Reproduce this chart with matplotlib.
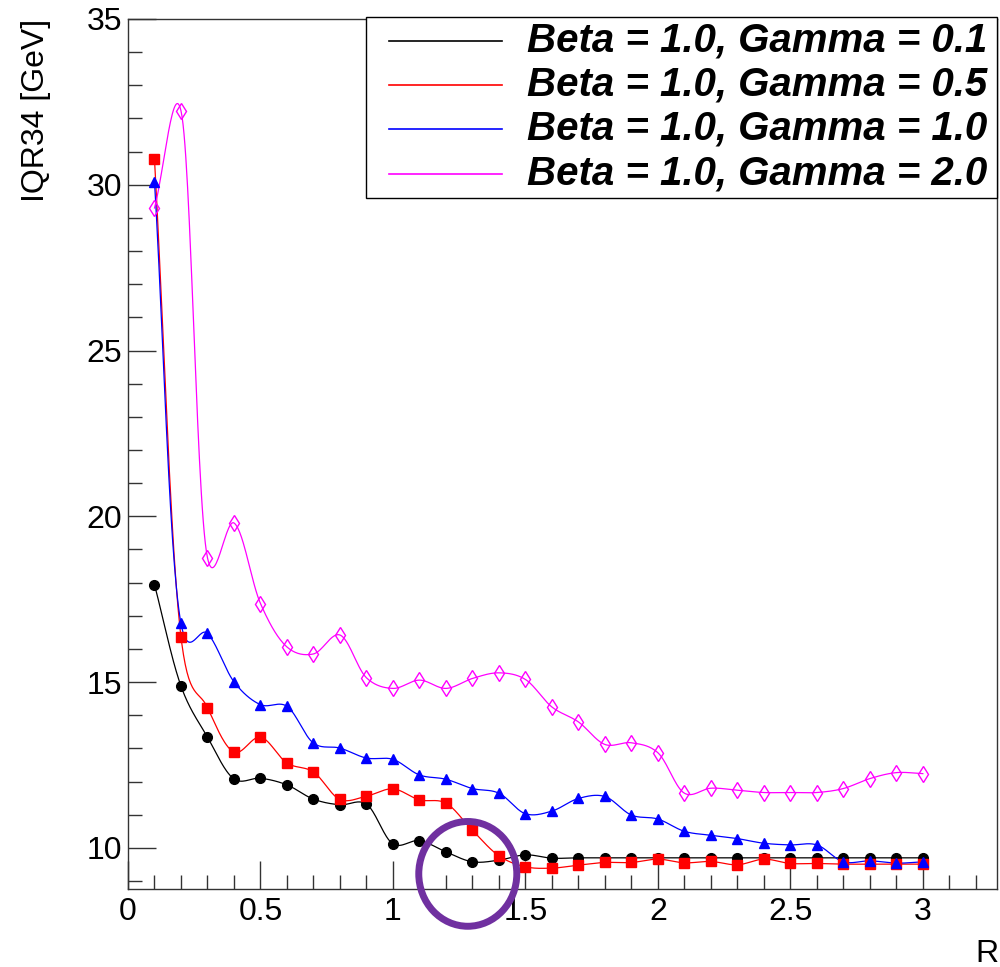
import numpy as np
import matplotlib
matplotlib.use("Agg")
import matplotlib.pyplot as plt
from matplotlib.patches import Rectangle, Ellipse
from matplotlib.lines import Line2D
from matplotlib.ticker import MultipleLocator, FuncFormatter

# ---------------- data ----------------
r_values = [0.1, 0.2, 0.3, 0.4, 0.5, 0.6, 0.7, 0.8, 0.9, 1.0,
            1.1, 1.2, 1.3, 1.4, 1.5, 1.6, 1.7, 1.8, 1.9, 2.0,
            2.1, 2.2, 2.3, 2.4, 2.5, 2.6, 2.7, 2.8, 2.9, 3.0]

iqr_gamma_01 = [17.94, 14.88, 13.34, 12.08, 12.10, 11.90, 11.47, 11.30, 11.32, 10.12,
                10.22, 9.88, 9.58, 9.63, 9.79, 9.69, 9.70, 9.70, 9.70, 9.70,
                9.70, 9.70, 9.70, 9.70, 9.70, 9.70, 9.70, 9.70, 9.70, 9.70]
iqr_gamma_05 = [30.77, 16.36, 14.23, 12.89, 13.34, 12.56, 12.29, 11.46, 11.56, 11.78,
                11.45, 11.35, 10.53, 9.76, 9.43, 9.39, 9.48, 9.56, 9.56, 9.66,
                9.55, 9.59, 9.49, 9.66, 9.53, 9.53, 9.51, 9.51, 9.51, 9.51]
iqr_gamma_10 = [30.09, 16.77, 16.47, 15.01, 14.32, 14.27, 13.16, 13.01, 12.71, 12.67,
                12.20, 12.07, 11.79, 11.65, 11.03, 11.11, 11.49, 11.55, 10.99, 10.87,
                10.50, 10.38, 10.28, 10.14, 10.09, 10.09, 9.58, 9.61, 9.54, 9.58]
iqr_gamma_20 = [29.30, 32.23, 18.75, 19.80, 17.37, 16.06, 15.85, 16.42, 15.13, 14.81,
                15.06, 14.81, 15.11, 15.28, 15.08, 14.25, 13.80, 13.12, 13.17, 12.87,
                11.65, 11.80, 11.74, 11.67, 11.67, 11.67, 11.79, 12.09, 12.27, 12.24]

series_labels = ["Beta = 1.0, Gamma = 0.1", "Beta = 1.0, Gamma = 0.5",
                 "Beta = 1.0, Gamma = 1.0", "Beta = 1.0, Gamma = 2.0"]
series_values = [iqr_gamma_01, iqr_gamma_05, iqr_gamma_10, iqr_gamma_20]
series_colors = ["#000000", "#ff0000", "#0000ff", "#ff00ff"]
series_markers = ["o", "s", "^", "d"]

x_label = "R"
y_label = "IQR34 [GeV]"

# ---------------- figure ----------------
W, H = 1000, 967
fig = plt.figure(figsize=(W / 100, H / 100), dpi=100)
ax_l, ax_r, ax_t, ax_b = 128, 997, 19, 889
ax = fig.add_axes([ax_l / W, 1 - ax_b / H, (ax_r - ax_l) / W, (ax_b - ax_t) / H])
ax.set_xlim(0, 3.28)
ax.set_ylim(8.76, 35)

TICK_FS = 23
ax.xaxis.set_major_locator(MultipleLocator(0.5))
ax.xaxis.set_minor_locator(MultipleLocator(0.1))
ax.yaxis.set_major_locator(MultipleLocator(5))
ax.yaxis.set_minor_locator(MultipleLocator(1))
ax.tick_params(which="both", direction="in", top=False, right=False, color="#333333", width=1)
ax.tick_params(which="major", length=20)
ax.tick_params(which="minor", length=10)
ax.tick_params(axis="x", which="major", pad=6)
ax.tick_params(axis="y", which="major", pad=4)
ax.xaxis.set_major_formatter(FuncFormatter(lambda v, p: f"{v:g}"))
ax.yaxis.set_major_formatter(FuncFormatter(lambda v, p: f"{v:g}"))
for lab in ax.get_xticklabels() + ax.get_yticklabels():
    lab.set_fontfamily("Liberation Sans")
    lab.set_fontsize(TICK_FS)
for s in ax.spines.values():
    s.set_color("#333333")
    s.set_linewidth(1)


def catmull_rom(points, n=30, alpha=0.15):
    """Smooth curve through the points (computed in screen space, like ROOT's "C" option)."""
    P = np.asarray(points, dtype=float)
    P = np.vstack([2 * P[0] - P[1], P, 2 * P[-1] - P[-2]])
    out = []
    for i in range(1, len(P) - 2):
        P0, P1, P2, P3 = P[i - 1], P[i], P[i + 1], P[i + 2]
        t0 = 0.0
        t1 = t0 + max(np.linalg.norm(P1 - P0), 1e-6) ** alpha
        t2 = t1 + max(np.linalg.norm(P2 - P1), 1e-6) ** alpha
        t3 = t2 + max(np.linalg.norm(P3 - P2), 1e-6) ** alpha
        t = np.linspace(t1, t2, n)[:, None]
        A1 = (t1 - t) / (t1 - t0) * P0 + (t - t0) / (t1 - t0) * P1
        A2 = (t2 - t) / (t2 - t1) * P1 + (t - t1) / (t2 - t1) * P2
        A3 = (t3 - t) / (t3 - t2) * P2 + (t - t2) / (t3 - t2) * P3
        B1 = (t2 - t) / (t2 - t0) * A1 + (t - t0) / (t2 - t0) * A2
        B2 = (t3 - t) / (t3 - t1) * A2 + (t - t1) / (t3 - t1) * A3
        C = (t2 - t) / (t2 - t1) * B1 + (t - t1) / (t2 - t1) * B2
        out.append(C if i == 1 else C[1:])
    return np.vstack(out)


ms = {"o": 7, "s": 7, "^": 7.5, "d": 8}
for vals, col, mk in zip(series_values, series_colors, series_markers):
    pix = ax.transData.transform(np.column_stack([r_values, vals]))
    curve = ax.transData.inverted().transform(catmull_rom(pix))
    ax.plot(curve[:, 0], curve[:, 1], color=col, lw=0.9, zorder=3)
    if mk == "d":
        ax.plot(r_values, vals, linestyle="none", marker=mk, ms=ms[mk],
                mfc="none", mec=col, mew=1.0, zorder=4)
    else:
        ax.plot(r_values, vals, linestyle="none", marker=mk, ms=ms[mk],
                mfc=col, mec=col, zorder=4)

# axis titles (ROOT style: at the axis ends)
fig.text(36 / W, 1 - 19 / H, y_label, rotation=90, ha="center", va="top",
         family="Liberation Sans", fontsize=23)
fig.text(999 / W, 1 - 962 / H, x_label, ha="right", va="baseline",
         family="Liberation Sans", fontsize=23)

# legend box (ROOT TLegend look)
lg_l, lg_r, lg_t, lg_b = 366, 997, 17, 198
fig.add_artist(Rectangle((lg_l / W, 1 - lg_b / H), (lg_r - lg_l) / W, (lg_b - lg_t) / H,
                         transform=fig.transFigure, facecolor="white",
                         edgecolor="black", lw=1, zorder=10))
row_y = [40.7, 85.0, 129.3, 173.6]
for yy, lab, col in zip(row_y, series_labels, series_colors):
    fig.add_artist(Line2D([389 / W, 502 / W], [1 - yy / H, 1 - yy / H],
                          transform=fig.transFigure, color=col, lw=1.2, zorder=11))
    fig.text(527 / W, 1 - (yy + 10.5) / H, lab, ha="left", va="baseline",
             family="Liberation Sans", weight="bold", style="italic",
             fontsize=29, zorder=12)

# purple highlight circle annotation
ax.add_patch(Ellipse((1.2825, 9.216), 0.37, 3.16, fill=False, edgecolor="#7030a0",
                     lw=5, zorder=20, clip_on=False))

fig.savefig("out.png", dpi=100)
